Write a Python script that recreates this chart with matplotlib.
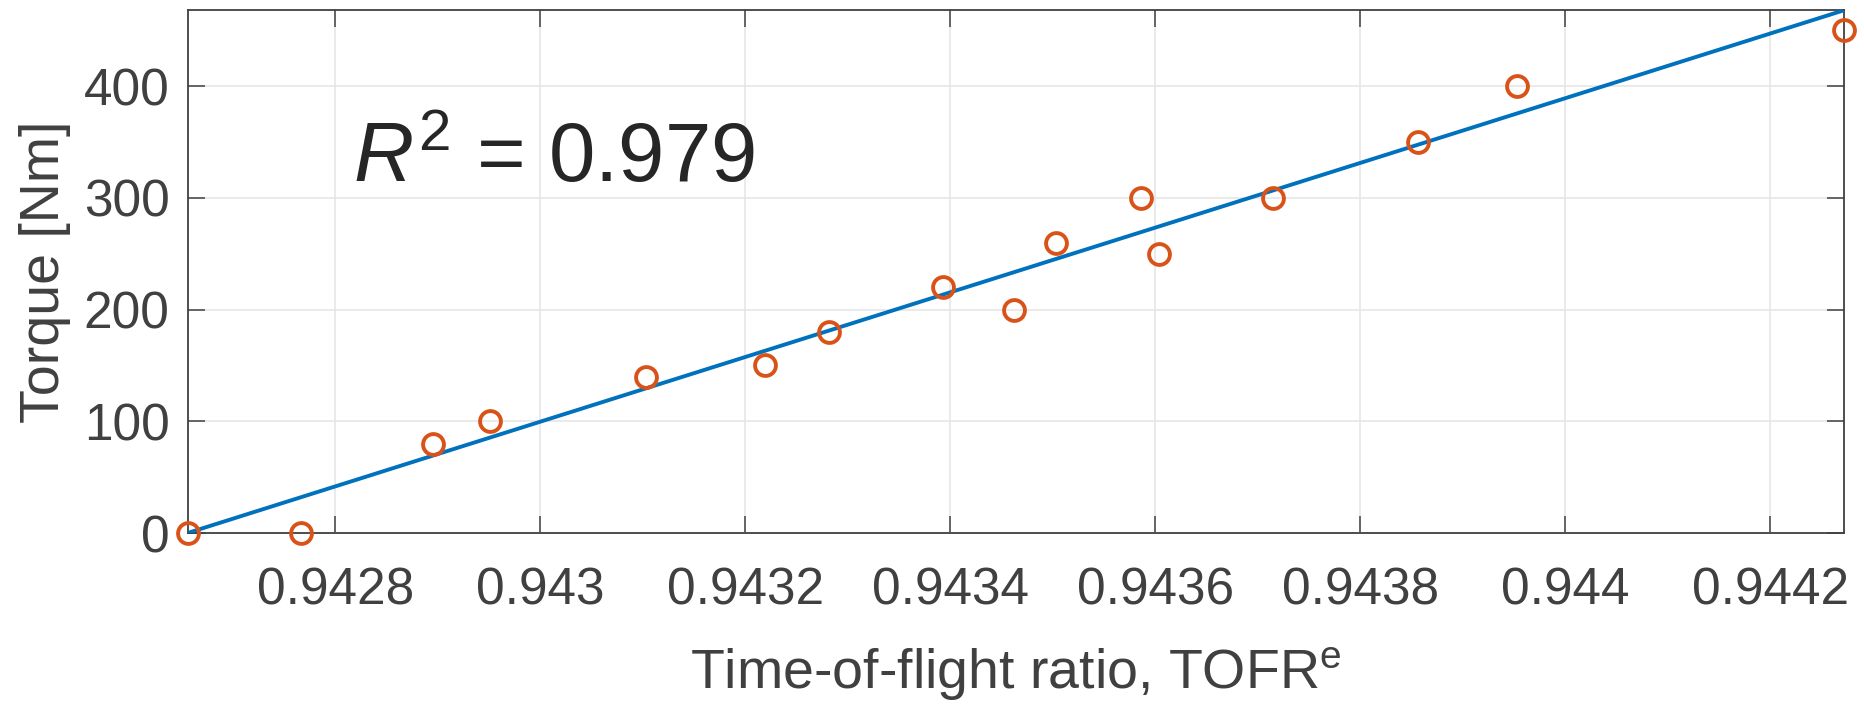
import numpy as np
import matplotlib
matplotlib.use('Agg')
import matplotlib.pyplot as plt

plt.rcParams['font.family'] = ['Liberation Sans', 'DejaVu Sans']
plt.rcParams['mathtext.fontset'] = 'custom'
plt.rcParams['mathtext.rm'] = 'Liberation Sans'
plt.rcParams['mathtext.it'] = 'Liberation Sans:italic'

# measured time-of-flight ratio vs applied torque
tofr = [0.942656, 0.942767, 0.942895, 0.942951, 0.943103, 0.943219,
        0.943282, 0.943393, 0.943462, 0.943503, 0.943586, 0.943604,
        0.943715, 0.943856, 0.943953, 0.944272]
torque = [0, 0, 80, 100, 140, 150, 180, 220, 200, 260, 300, 250,
          300, 350, 400, 450]
# fitted torque at the first and last TOFR
fit_torque = [0, 468]
xticks = [0.9428, 0.943, 0.9432, 0.9434, 0.9436, 0.9438, 0.944, 0.9442]
xticklabels = ['0.9428', '0.943', '0.9432', '0.9434', '0.9436', '0.9438',
               '0.944', '0.9442']
yticks = [0, 100, 200, 300, 400]
r2_label = '0.979'

BLUE = '#0072BD'
ORANGE = '#D95319'
AXIS = '#404040'

x = np.array(tofr)
y = np.array(torque)
x_fit = np.array([x.min(), x.max()])
y_fit = np.array(fit_torque)

fig = plt.figure(figsize=(18.64, 7.06), dpi=100)
ax = fig.add_axes([0.1006, 0.245, 0.8887, 0.7405])

ax.plot(x_fit, y_fit, color=BLUE, linewidth=2.8, zorder=3)
ax.plot(x, y, linestyle='none', marker='o', markersize=15,
        markerfacecolor='none', markeredgecolor=ORANGE,
        markeredgewidth=2.8, clip_on=False, zorder=4)

ax.set_xlim(x.min(), x.max())
ax.set_ylim(0, y_fit.max())
ax.set_xticks(xticks)
ax.set_xticklabels(xticklabels)
ax.set_yticks(yticks)

ax.grid(True, color='#e6e6e6', linewidth=1.2)
ax.set_axisbelow(True)
for s in ax.spines.values():
    s.set_color(AXIS)
    s.set_linewidth(1.3)
ax.tick_params(direction='in', length=12, width=1.1, color=AXIS,
               labelcolor=AXIS, labelsize=37, top=True, right=True)
ax.tick_params(axis='x', pad=24)
ax.tick_params(axis='y', pad=13)

ax.set_xlabel('Time-of-flight ratio, TOFR$^{\\mathrm{e}}$', fontsize=40,
              color=AXIS, labelpad=22)
ax.set_ylabel('Torque [Nm]', fontsize=40, color=AXIS, labelpad=9)

ax.text(0.1, 0.671, '$R^2$ = ' + r2_label, transform=ax.transAxes,
        fontsize=60, color='#262626', va='baseline', ha='left')

fig.savefig('out.png', dpi=100)
